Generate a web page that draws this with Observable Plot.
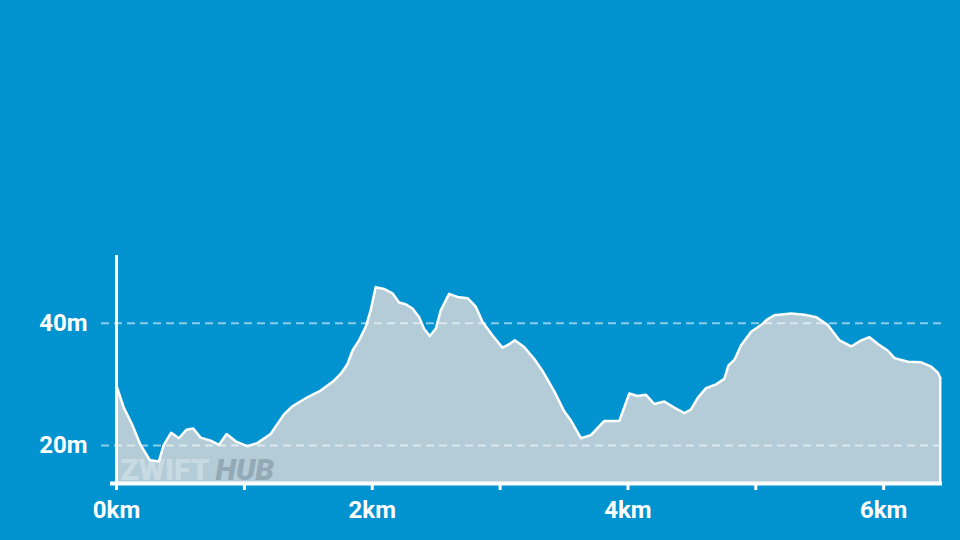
<!DOCTYPE html>
<html>
<head>
<meta charset="utf-8">
<script src="https://cdn.jsdelivr.net/npm/d3@7"></script>
<script src="https://cdn.jsdelivr.net/npm/@observablehq/plot@0.6"></script>
<style>
  html, body { margin: 0; padding: 0; background: #0093d0; }
  #chart { width: 960px; height: 540px; }
</style>
</head>
<body>
<div id="chart"></div>
<script>
// Distance along route (km) and elevation (m)
const km = [0, 0.057, 0.123, 0.188, 0.261, 0.331, 0.370, 0.428, 0.488, 0.548, 0.600, 0.658, 0.736, 0.801, 0.861, 0.932,
  1.023, 1.101, 1.205, 1.310, 1.375, 1.493, 1.597, 1.701, 1.753, 1.806, 1.845, 1.897, 1.949, 1.988,
  2.027, 2.092, 2.158, 2.210, 2.262, 2.315, 2.366, 2.405, 2.450, 2.497, 2.536, 2.601, 2.667, 2.745, 2.810, 2.863, 2.941,
  3.019, 3.058, 3.115, 3.188, 3.266, 3.332, 3.423, 3.501, 3.554, 3.632, 3.710, 3.814, 3.932,
  4.010, 4.076, 4.141, 4.206, 4.284, 4.362, 4.441, 4.493, 4.546, 4.611, 4.689, 4.754, 4.786, 4.832, 4.885, 4.963,
  5.041, 5.088, 5.145, 5.276, 5.380, 5.472, 5.563, 5.654, 5.746, 5.824, 5.889, 5.955,
  6.033, 6.085, 6.190, 6.294, 6.372, 6.424, 6.442];
const elev = [29.8, 26.2, 23.4, 20.1, 17.6, 17.4, 20.1, 22.1, 21.2, 22.6, 22.8, 21.3, 20.8, 20.1, 21.9, 20.7,
  19.9, 20.4, 21.9, 25.1, 26.4, 27.9, 29.0, 30.6, 31.7, 33.3, 35.5, 37.2, 39.4, 42.1,
  45.9, 45.6, 44.9, 43.4, 43.1, 42.4, 41.0, 39.1, 37.9, 39.1, 42.1, 44.8, 44.3, 44.1, 42.7, 40.2, 38.0,
  36.0, 36.4, 37.2, 36.1, 34.2, 32.2, 28.9, 25.6, 24.1, 21.2, 21.7, 24.0, 24.0,
  28.5, 28.1, 28.3, 26.8, 27.2, 26.2, 25.3, 25.9, 27.8, 29.4, 30.0, 30.9, 33.1, 34.0, 36.4, 38.6,
  39.7, 40.6, 41.3, 41.6, 41.4, 41.0, 39.7, 37.2, 36.2, 37.2, 37.7, 36.6,
  35.5, 34.3, 33.7, 33.6, 32.9, 31.9, 31.1];

const xTicks = [0, 1, 2, 3, 4, 5, 6];
const xLabels = [0, 2, 4, 6];
const yLabels = [20, 40];

const data = km.map((d, i) => ({km: d, elev: elev[i]}));
const yMin = 13.8, yMax = 51.07;
const last = data[data.length - 1];

const chart = Plot.plot({
  width: 960,
  height: 540,
  marginLeft: 116,
  marginRight: 18,
  marginTop: 255,
  marginBottom: 57,
  style: {background: "#0093d0", color: "white", fontFamily: "Roboto, sans-serif", fontWeight: "bold", overflow: "visible"},
  x: {domain: [0, 6.46], label: null},
  y: {domain: [yMin, yMax], label: null},
  marks: [
    Plot.areaY(data, {x: "km", y1: yMin, y2: "elev", fill: "#b3ccd8"}),
    Plot.text(["ZWIFT"], {frameAnchor: "bottom-left", dx: 4, dy: -4, text: d => d, textAnchor: "start", lineAnchor: "bottom",
      fontSize: 30, fontWeight: "900", fill: "white", fillOpacity: 0.3}),
    Plot.text(["HUB"], {frameAnchor: "bottom-left", dx: 99, dy: -4, text: d => d, textAnchor: "start", lineAnchor: "bottom",
      fontSize: 30, fontStyle: "italic", fontWeight: "900", fill: "#93a9b5"}),
    Plot.ruleY(yLabels, {stroke: "white", strokeOpacity: 0.55, strokeWidth: 2, strokeDasharray: "8,5", insetLeft: -15}),
    Plot.lineY(data, {x: "km", y: "elev", stroke: "white", strokeWidth: 2.5, strokeLinejoin: "round"}),
    Plot.ruleX([last], {x: "km", y1: yMin, y2: "elev", stroke: "white", strokeWidth: 2.5}),
    Plot.ruleX([0], {stroke: "white", strokeWidth: 3}),
    Plot.ruleY([yMin], {stroke: "white", strokeWidth: 4, insetLeft: -6}),
    Plot.axisX(xTicks, {tickSize: 7, strokeWidth: 3, stroke: "white", text: null, tickFormat: null, label: null}),
    Plot.axisX(xLabels, {tickSize: 0, tickPadding: 17, tickFormat: d => d + "km", fontSize: 24, fontWeight: "bold", fill: "white", label: null}),
    Plot.axisY(yLabels, {tickSize: 0, tickPadding: 29, tickFormat: d => d + "m", fontSize: 24, fontWeight: "bold", fill: "white", label: null})
  ]
});
document.getElementById("chart").appendChild(chart);
</script>
</body>
</html>
